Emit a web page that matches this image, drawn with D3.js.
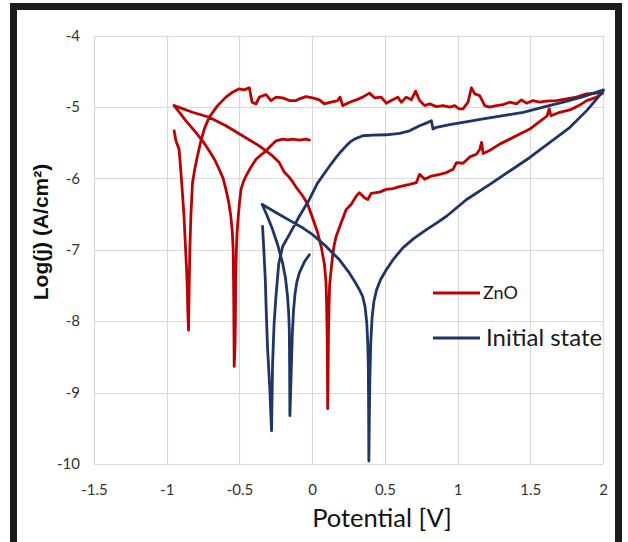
<!DOCTYPE html>
<html><head><meta charset="utf-8">
<script src="https://cdn.jsdelivr.net/npm/d3@7"></script>
<style>html,body{margin:0;padding:0;background:#fff;}svg{display:block;}</style>
</head><body>
<svg id="chart" width="628" height="542"></svg>
<script>
// ---- data ----
const xTicks = [-1.5, -1, -0.5, 0, 0.5, 1, 1.5, 2];
const yTicks = [-4, -5, -6, -7, -8, -9, -10];
const xTickLabels = ["-1.5", "-1", "-0.5", "0", "0.5", "1", "1.5", "2"];
const yTickLabels = ["-4", "-5", "-6", "-7", "-8", "-9", "-10"];
const seriesNames = ["ZnO", "Initial state"];
const seriesColors = ["#c00000", "#1f3468"];

// ZnO short sweep [potential V, log j]
const znoShort = [[-0.949,-4.982],[-0.869,-5.193],[-0.800,-5.356],[-0.754,-5.475],[-0.708,-5.615],[-0.670,-5.74],[-0.639,-5.873],[-0.612,-6.0],[-0.593,-6.155],[-0.574,-6.33],[-0.559,-6.531],[-0.549,-6.75],[-0.543,-7.0],[-0.539,-7.704],[-0.536,-8.634],[-0.530,-8.3],[-0.528,-8.0],[-0.526,-7.423],[-0.521,-7.0],[-0.516,-6.75],[-0.508,-6.531],[-0.499,-6.33],[-0.489,-6.155],[-0.473,-6.05],[-0.455,-5.968],[-0.420,-5.84],[-0.386,-5.732],[-0.350,-5.67],[-0.317,-5.615],[-0.282,-5.54],[-0.248,-5.475],[-0.203,-5.451],[-0.170,-5.46],[-0.134,-5.451],[-0.088,-5.465],[-0.042,-5.451],[-0.019,-5.465]];

// ZnO cyclic sweep
const znoCycle = [[-0.949,-4.982],[-0.823,-5.075],[-0.708,-5.145],[-0.593,-5.263],[-0.479,-5.404],[-0.364,-5.545],[-0.272,-5.686],[-0.226,-5.779],[-0.191,-5.916],[-0.157,-5.986],[-0.136,-6.042],[-0.109,-6.127],[-0.067,-6.240],[-0.033,-6.352],[0.002,-6.549],[0.036,-6.747],[0.064,-6.972],[0.085,-7.211],[0.095,-7.45],[0.099,-7.704],[0.104,-8.3],[0.107,-9.226],
[0.110,-8.7],[0.112,-8.2],[0.116,-7.8],[0.120,-7.5],[0.128,-7.33],[0.141,-7.08],[0.152,-6.93],[0.165,-6.813],[0.199,-6.624],[0.234,-6.437],[0.268,-6.366],[0.303,-6.249],[0.325,-6.202],[0.360,-6.272],[0.383,-6.296],[0.406,-6.211],[0.463,-6.193],[0.510,-6.155],[0.555,-6.145],[0.601,-6.117],[0.670,-6.085],[0.716,-6.061],[0.739,-5.944],[0.774,-6.014],[0.820,-5.968],[0.877,-5.944],[0.923,-5.920],[0.969,-5.873],[0.992,-5.779],[1.038,-5.789],[1.084,-5.700],[1.130,-5.662],[1.153,-5.592],[1.165,-5.497],[1.176,-5.652],[1.222,-5.606],[1.290,-5.521],[1.359,-5.451],[1.428,-5.380],[1.497,-5.310],[1.543,-5.239],[1.589,-5.169],[1.616,-5.123],[1.630,-5.028],[1.642,-5.123],[1.703,-5.075],[1.772,-5.042],[1.819,-4.996],[1.853,-4.958],[1.888,-4.911],[1.957,-4.863],[1.998,-4.807],
[1.997,-4.793],[1.956,-4.807],[1.887,-4.817],[1.818,-4.863],[1.749,-4.887],[1.680,-4.911],[1.611,-4.920],[1.565,-4.934],[1.519,-4.911],[1.474,-4.948],[1.439,-4.901],[1.405,-4.958],[1.359,-4.934],[1.313,-4.968],[1.267,-4.982],[1.221,-5.004],[1.187,-4.982],[1.152,-4.841],[1.118,-4.817],[1.095,-4.732],[1.072,-4.934],[1.037,-5.028],[1.010,-5.028],[0.980,-4.982],[0.946,-5.004],[0.900,-4.982],[0.854,-4.996],[0.808,-4.958],[0.774,-4.982],[0.739,-4.911],[0.711,-4.779],[0.682,-4.901],[0.647,-4.863],[0.613,-4.934],[0.589,-4.863],[0.544,-4.911],[0.510,-4.948],[0.475,-4.863],[0.429,-4.873],[0.394,-4.807],[0.348,-4.863],[0.303,-4.901],[0.257,-4.934],[0.210,-4.982],[0.192,-4.863],[0.176,-4.911],[0.130,-4.934],[0.084,-4.958],[0.050,-4.901],[0.004,-4.873],[-0.042,-4.855],[-0.088,-4.887],[-0.110,-4.911],[-0.156,-4.911],[-0.203,-4.873],[-0.248,-4.863],[-0.283,-4.911],[-0.317,-4.827],[-0.363,-4.863],[-0.386,-4.958],[-0.413,-4.934],[-0.432,-4.732],[-0.467,-4.761],[-0.501,-4.746],[-0.547,-4.793],[-0.593,-4.863],[-0.650,-4.982],[-0.708,-5.145],[-0.740,-5.30],[-0.765,-5.475],[-0.790,-5.700],[-0.808,-5.88],[-0.823,-6.070],[-0.834,-6.531],[-0.841,-7.0],[-0.846,-7.563],[-0.850,-8.127],
[-0.855,-7.85],[-0.858,-7.563],[-0.864,-7.25],[-0.870,-7.0],[-0.881,-6.531],[-0.897,-6.061],[-0.906,-5.82],[-0.915,-5.592],[-0.937,-5.475],[-0.949,-5.334]];

// Initial state short sweep
const initShort = [[-0.343,-6.366],[-0.308,-6.53],[-0.272,-6.718],[-0.237,-6.93],[-0.203,-7.187],[-0.183,-7.40],[-0.169,-7.658],[-0.161,-7.90],[-0.157,-8.127],[-0.155,-8.6],[-0.153,-9.324],[-0.148,-9.0],[-0.143,-8.631],[-0.136,-8.168],[-0.128,-7.85],[-0.118,-7.62],[-0.105,-7.45],[-0.088,-7.324],[-0.053,-7.169],[-0.019,-7.070]];

// Initial state cyclic sweep
const initCycle = [[-0.343,-6.366],[-0.240,-6.49],[-0.134,-6.613],[-0.060,-6.70],[0.004,-6.789],[0.096,-6.953],[0.188,-7.141],[0.257,-7.328],[0.303,-7.479],[0.330,-7.58],[0.348,-7.658],[0.364,-7.80],[0.376,-8.032],[0.382,-8.30],[0.386,-8.596],[0.388,-9.1],[0.390,-9.958],
[0.393,-9.4],[0.397,-8.8],[0.403,-8.3],[0.412,-7.95],[0.425,-7.72],[0.443,-7.563],[0.470,-7.42],[0.510,-7.28],[0.560,-7.13],[0.625,-6.97],[0.700,-6.84],[0.786,-6.718],[0.860,-6.62],[0.924,-6.531],[1.062,-6.296],[1.222,-6.085],[1.359,-5.897],[1.497,-5.708],[1.635,-5.497],[1.773,-5.286],[1.888,-5.052],[1.957,-4.887],[2.003,-4.770],
[2.003,-4.761],[1.865,-4.855],[1.727,-4.934],[1.589,-5.004],[1.451,-5.075],[1.313,-5.123],[1.176,-5.169],[1.037,-5.216],[0.946,-5.249],[0.854,-5.286],[0.831,-5.310],[0.820,-5.193],[0.797,-5.216],[0.739,-5.263],[0.670,-5.334],[0.601,-5.370],[0.510,-5.390],[0.418,-5.394],[0.348,-5.404],[0.291,-5.451],[0.262,-5.49],[0.234,-5.545],[0.200,-5.62],[0.165,-5.708],[0.130,-5.80],[0.096,-5.897],[0.036,-6.070],[-0.019,-6.296],[-0.088,-6.531],[-0.157,-6.789],[-0.203,-6.954],[-0.230,-7.20],[-0.249,-7.658],[-0.262,-8.05],[-0.272,-8.596],[-0.279,-9.535],
[-0.285,-9.25],[-0.291,-8.95],[-0.299,-8.65],[-0.307,-8.362],[-0.315,-7.90],[-0.322,-7.423],[-0.331,-7.05],[-0.341,-6.672]];

// ---- drawing ----
const svg = d3.select("#chart");
svg.append("rect").attr("x",0).attr("y",0).attr("width",628).attr("height",542).attr("fill","#fff");

const x = d3.scaleLinear().domain([-1.5, 2]).range([94, 603]);
const y = d3.scaleLinear().domain([-10, -4]).range([464, 35.5]);

// gridlines
const grid = svg.append("g");
grid.selectAll("line.v").data(xTicks).join("line")
  .attr("x1", d => Math.round(x(d)) + 0.5).attr("x2", d => Math.round(x(d)) + 0.5)
  .attr("y1", y(-4)).attr("y2", y(-10))
  .attr("stroke", "#d9d9d9").attr("stroke-width", 1.2);
grid.selectAll("line.h").data(yTicks).join("line")
  .attr("y1", d => Math.round(y(d)) + 0.5).attr("y2", d => Math.round(y(d)) + 0.5)
  .attr("x1", x(-1.5)).attr("x2", x(2))
  .attr("stroke", "#d9d9d9").attr("stroke-width", 1.2);

// axes (labels only)
const xAxis = d3.axisBottom(x).tickValues(xTicks).tickSize(0).tickPadding(0)
  .tickFormat((d, i) => xTickLabels[i]);
const gx = svg.append("g").attr("transform", `translate(0,${y(-10)+31})`).call(xAxis);
gx.select(".domain").remove();
gx.selectAll("text").attr("font-family", "Lato, 'Open Sans', sans-serif").attr("font-size", 15).attr("fill", "#333").attr("dy", 0);

const yAxis = d3.axisLeft(y).tickValues(yTicks).tickSize(0).tickPadding(0)
  .tickFormat((d, i) => yTickLabels[i]);
const gy = svg.append("g").attr("transform", `translate(80,0)`).call(yAxis);
gy.select(".domain").remove();
gy.selectAll("text").attr("font-family", "Lato, 'Open Sans', sans-serif").attr("font-size", 15).attr("fill", "#333");

// series
const line = d3.line().x(d => x(d[0])).y(d => y(d[1])).curve(d3.curveLinear);
const paths = [
  {data: znoShort, c: seriesColors[0]},
  {data: znoCycle, c: seriesColors[0]},
  {data: initShort, c: seriesColors[1]},
  {data: initCycle, c: seriesColors[1]}
];
svg.append("g").selectAll("path").data(paths).join("path")
  .attr("d", d => line(d.data)).attr("fill", "none")
  .attr("stroke", d => d.c).attr("stroke-width", 2.8)
  .attr("stroke-linejoin", "round").attr("stroke-linecap", "round");

// axis titles
svg.append("text").attr("x", 382).attr("y", 527).attr("text-anchor", "middle")
  .attr("font-family", "Lato, 'Open Sans', sans-serif").attr("font-size", 25.5).attr("fill", "#111")
  .text("Potential [V]");
svg.append("text").attr("transform", "translate(48,232) rotate(-90)").attr("text-anchor", "middle")
  .attr("font-family", "'Liberation Sans', Arial, sans-serif").attr("font-weight", "bold").attr("font-size", 21).attr("fill", "#111")
  .text("Log(j) (A/cm²)");

// legend
const legend = svg.append("g");
const legItems = [
  {name: seriesNames[0], c: seriesColors[0], y: 293, size: 18, tx: 483},
  {name: seriesNames[1], c: seriesColors[1], y: 338, size: 24, tx: 486}
];
legend.selectAll("line").data(legItems).join("line")
  .attr("x1", 433).attr("x2", 480).attr("y1", d => d.y).attr("y2", d => d.y)
  .attr("stroke", d => d.c).attr("stroke-width", 3);
legend.selectAll("text").data(legItems).join("text")
  .attr("x", d => d.tx).attr("y", d => d.y).attr("dy", "0.35em")
  .attr("font-family", "Lato, 'Open Sans', sans-serif").attr("font-size", d => d.size).attr("fill", "#1a1a1a")
  .text(d => d.name);

// frame
svg.append("rect").attr("x", 13.5).attr("y", 6.5).attr("width", 605).attr("height", 600)
  .attr("fill", "none").attr("stroke", "#1c1c1c").attr("stroke-width", 7);
</script>
</body></html>
